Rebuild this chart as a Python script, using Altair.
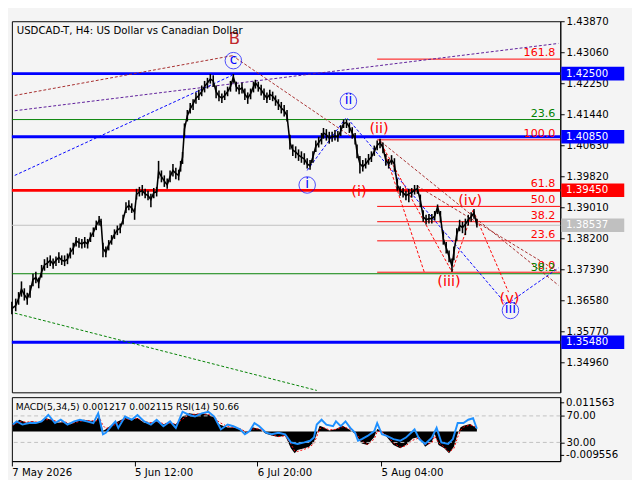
import altair as alt
import pandas as pd

# ---------------- price data (H4 bars, index from chart start) ----------------
bars = [0, 4, 7, 10, 13, 16, 19, 22, 25, 28,
        31, 34, 37, 40, 43, 46, 49, 52, 55, 58,
        61, 64, 67, 70, 73, 76, 79, 82, 85, 88,
        91, 93, 95, 98, 101, 104, 107, 110, 113, 116,
        119, 122, 125, 128, 130, 133, 136, 139, 142, 145,
        148, 151, 153, 156, 159, 162, 165, 168, 171, 174,
        176, 178, 180, 183, 186, 189, 192, 195, 198, 201,
        204, 207, 210, 213, 216, 219, 222, 225, 228, 231,
        234, 237, 240, 243, 246, 249, 252, 254, 257, 260,
        263, 266, 269, 272, 275, 278, 281, 284, 287, 290,
        293, 296, 299, 302, 305, 308, 311, 314, 317, 320,
        323, 325, 328, 331, 334, 337, 340, 343, 346, 349,
        352, 355, 358, 360, 363, 366, 369, 372, 375, 378,
        381, 384, 387, 390, 393, 396, 399, 402, 405, 408,
        411, 414, 417, 420, 423, 426, 429, 432, 435, 438,
        441, 444, 447, 450, 453, 456, 459, 461, 464, 467,
        470, 473, 476, 479, 482, 485]

close = [1.3636, 1.3644, 1.3662, 1.3687, 1.3672, 1.3662, 1.3679, 1.3712, 1.3717, 1.3704,
         1.3732, 1.3750, 1.3755, 1.3762, 1.3752, 1.3762, 1.3770, 1.3762, 1.3760, 1.3765,
         1.3783, 1.3793, 1.3813, 1.3808, 1.3805, 1.3810, 1.3805, 1.3823, 1.3835, 1.3853,
         1.3866, 1.3863, 1.3793, 1.3783, 1.3803, 1.3815, 1.3830, 1.3841, 1.3846, 1.3868,
         1.3898, 1.3906, 1.3898, 1.3888, 1.3934, 1.3941, 1.3944, 1.3936, 1.3931, 1.3921,
         1.3939, 1.3941, 1.3994, 1.3981, 1.3969, 1.3959, 1.3981, 1.3997, 1.3989, 1.3984,
         1.4009, 1.4032, 1.4105, 1.4140, 1.4158, 1.4171, 1.4186, 1.4193, 1.4203, 1.4216,
         1.4226, 1.4236, 1.4231, 1.4203, 1.4191, 1.4186, 1.4193, 1.4203, 1.4216, 1.4241,
         1.4216, 1.4208, 1.4213, 1.4196, 1.4186, 1.4198, 1.4216, 1.4226, 1.4216, 1.4208,
         1.4196, 1.4186, 1.4196, 1.4191, 1.4181, 1.4171, 1.4160, 1.4153, 1.4140, 1.4070,
         1.4050, 1.4045, 1.4037, 1.4032, 1.4027, 1.4014, 1.4009, 1.4032, 1.4060, 1.4070,
         1.4080, 1.4095, 1.4090, 1.4082, 1.4085, 1.4087, 1.4085, 1.4100, 1.4120, 1.4122,
         1.4110, 1.4095, 1.4080, 1.4045, 1.4014, 1.4007, 1.4014, 1.4024, 1.4032, 1.4047,
         1.4062, 1.4070, 1.4057, 1.4024, 1.4014, 1.4024, 1.4014, 1.3959, 1.3944, 1.3939,
         1.3931, 1.3936, 1.3939, 1.3946, 1.3949, 1.3919, 1.3876, 1.3868, 1.3871, 1.3871,
         1.3878, 1.3901, 1.3876, 1.3818, 1.3795, 1.3772, 1.3747, 1.3783, 1.3830, 1.3853,
         1.3848, 1.3856, 1.3868, 1.3876, 1.3886, 1.38537]

high = [1.3654, 1.3662, 1.3679, 1.3707, 1.3689, 1.3677, 1.3697, 1.3727, 1.3732, 1.3717,
        1.3750, 1.3765, 1.3770, 1.3775, 1.3767, 1.3772, 1.3783, 1.3775, 1.3775, 1.3780,
        1.3795, 1.3808, 1.3823, 1.3820, 1.3818, 1.3823, 1.3818, 1.3835, 1.3848, 1.3866,
        1.3878, 1.3871, 1.3808, 1.3798, 1.3815, 1.3828, 1.3843, 1.3853, 1.3858, 1.3881,
        1.3914, 1.3919, 1.3911, 1.3898, 1.3949, 1.3954, 1.3959, 1.3949, 1.3944, 1.3936,
        1.3951, 1.3954, 1.4022, 1.3997, 1.3984, 1.3976, 1.3997, 1.4014, 1.4004, 1.3999,
        1.4022, 1.4045, 1.4120, 1.4155, 1.4173, 1.4183, 1.4201, 1.4208, 1.4219, 1.4231,
        1.4239, 1.4249, 1.4246, 1.4219, 1.4206, 1.4198, 1.4206, 1.4216, 1.4231, 1.4249,
        1.4229, 1.4221, 1.4226, 1.4211, 1.4201, 1.4211, 1.4229, 1.4234, 1.4229, 1.4221,
        1.4211, 1.4201, 1.4208, 1.4203, 1.4193, 1.4183, 1.4176, 1.4168, 1.4155, 1.4090,
        1.4065, 1.4060, 1.4052, 1.4047, 1.4042, 1.4029, 1.4024, 1.4047, 1.4075, 1.4085,
        1.4095, 1.4108, 1.4105, 1.4098, 1.4098, 1.4103, 1.4100, 1.4115, 1.4130, 1.4130,
        1.4122, 1.4110, 1.4095, 1.4065, 1.4035, 1.4024, 1.4029, 1.4040, 1.4047, 1.4062,
        1.4075, 1.4080, 1.4070, 1.4040, 1.4027, 1.4037, 1.4029, 1.3976, 1.3956, 1.3951,
        1.3944, 1.3949, 1.3951, 1.3959, 1.3959, 1.3934, 1.3893, 1.3881, 1.3883, 1.3883,
        1.3891, 1.3908, 1.3891, 1.3838, 1.3810, 1.3788, 1.3767, 1.3798, 1.3846, 1.3868,
        1.3863, 1.3871, 1.3881, 1.3888, 1.3896, 1.3871]

low = [1.3621, 1.3629, 1.3646, 1.3667, 1.3657, 1.3646, 1.3664, 1.3694, 1.3702, 1.3689,
       1.3717, 1.3735, 1.3742, 1.3747, 1.3740, 1.3747, 1.3755, 1.3750, 1.3747, 1.3752,
       1.3767, 1.3777, 1.3798, 1.3795, 1.3793, 1.3795, 1.3793, 1.3810, 1.3823, 1.3841,
       1.3853, 1.3851, 1.3770, 1.3770, 1.3788, 1.3803, 1.3818, 1.3828, 1.3833, 1.3856,
       1.3886, 1.3893, 1.3886, 1.3868, 1.3921, 1.3929, 1.3931, 1.3924, 1.3919, 1.3901,
       1.3924, 1.3929, 1.3976, 1.3966, 1.3954, 1.3949, 1.3966, 1.3981, 1.3974, 1.3971,
       1.3994, 1.4014, 1.4085, 1.4125, 1.4146, 1.4155, 1.4171, 1.4181, 1.4191, 1.4201,
       1.4211, 1.4224, 1.4216, 1.4186, 1.4178, 1.4173, 1.4181, 1.4191, 1.4203, 1.4226,
       1.4203, 1.4196, 1.4198, 1.4181, 1.4171, 1.4183, 1.4201, 1.4211, 1.4203, 1.4193,
       1.4181, 1.4173, 1.4181, 1.4178, 1.4166, 1.4155, 1.4146, 1.4138, 1.4125, 1.4052,
       1.4035, 1.4029, 1.4022, 1.4017, 1.4012, 1.4002, 1.3999, 1.4017, 1.4045, 1.4057,
       1.4065, 1.4080, 1.4075, 1.4067, 1.4072, 1.4075, 1.4072, 1.4087, 1.4108, 1.4108,
       1.4095, 1.4080, 1.4065, 1.4029, 1.3989, 1.3994, 1.4002, 1.4012, 1.4019, 1.4035,
       1.4050, 1.4055, 1.4042, 1.4009, 1.4002, 1.4012, 1.3994, 1.3944, 1.3931, 1.3926,
       1.3919, 1.3914, 1.3926, 1.3934, 1.3936, 1.3901, 1.3863, 1.3856, 1.3858, 1.3858,
       1.3866, 1.3883, 1.3861, 1.3803, 1.3780, 1.3757, 1.3732, 1.3762, 1.3813, 1.3838,
       1.3833, 1.3828, 1.3853, 1.3863, 1.3871, 1.3848]

price_ticks = [1.43870, 1.43060, 1.42250, 1.41440, 1.40630, 1.39820,
               1.39010, 1.38200, 1.37390, 1.36580, 1.35770, 1.34960]

# horizontal levels
level_values = [1.42500, 1.40850, 1.39450, 1.35480]
level_colors = ["#0000ff", "#0000ff", "#ff0000", "#0000ff"]
thin_values = [1.41300, 1.37270, 1.38537]
thin_colors = ["#008000", "#008000", "#c0c0c0"]

# Fibonacci (red) and second Fibonacci (green)
fib_values = [1.4288, 1.4077, 1.3945, 1.3903, 1.3863, 1.3813, 1.3731]
fib_labels = ["161.8", "100.0", "61.8", "50.0", "38.2", "23.6", "0.0"]
fib_start = [381]
fib_end = [572]
gfib_values = [1.4130, 1.3727]
gfib_labels = ["23.6", "38.2"]

# price tags on the right
box_values = [1.42500, 1.40850, 1.39450, 1.38537, 1.35480]
box_colors = ["#0000ff", "#0000ff", "#ff0000", "#c0c0c0", "#0000ff"]

# dotted trend lines
seg_x1 = [3, 230, 3, 3, 308, 350, 520, 3, 383, 388, 459, 481, 385, 423]
seg_y1 = [1.4193, 1.4297, 1.4153, 1.3984, 1.3997, 1.4133, 1.3654, 1.3624,
          1.4077, 1.4052, 1.3732, 1.3893, 1.4072, 1.3956]
seg_x2 = [230, 353, 570, 230, 348, 515, 570, 318, 459, 430, 481, 518, 570, 570]
seg_y2 = [1.4297, 1.4087, 1.4329, 1.4246, 1.4133, 1.3649, 1.3742, 1.3422,
          1.3732, 1.3732, 1.3893, 1.3679, 1.3697, 1.3732]
seg_color = ["#a52a2a", "#a52a2a", "#5b1a99", "#0000ff", "#0000ff", "#0000ff",
             "#0000ff", "#008000", "#ff0000", "#ff0000", "#ff0000", "#ff0000",
             "#a52a2a", "#a52a2a"]

# wave labels
b_text = ["B"]
b_bar = [232]
b_price = [1.4339]
circ_text = ["c", "ii", "i", "iii"]
circ_bar = [231, 351, 308, 520]
circ_price = [1.4284, 1.4178, 1.3959, 1.3631]
red_text = ["(ii)", "(i)", "(iv)", "(iii)", "(v)"]
red_bar = [383, 362, 478, 456, 519]
red_price = [1.4108, 1.3944, 1.3919, 1.3707, 1.3662]

# ---------------- indicator data ----------------
macd_bars = [1, 8, 15, 21, 28, 35, 41, 48, 55, 61,
             68, 75, 81, 88, 91, 95, 98, 105, 111, 118,
             125, 131, 138, 145, 151, 158, 165, 171, 178, 185,
             191, 198, 205, 211, 216, 225, 231, 238, 245, 251,
             258, 265, 271, 278, 285, 291, 295, 298, 305, 310,
             315, 318, 321, 325, 331, 338, 345, 351, 358, 365,
             371, 378, 381, 385, 391, 398, 405, 411, 418, 425,
             431, 438, 441, 445, 451, 456, 461, 465, 468, 471,
             478, 483, 485]
macd_hist = [0.0029, 0.0048, 0.0035, 0.0042, 0.0035, 0.0055, 0.0048, 0.0035, 0.0039, 0.0029,
             0.0042, 0.0048, 0.0044, 0.0042, 0.0068, 0.0003, 0.0009, 0.0029, 0.0042, 0.0055,
             0.0048, 0.0055, 0.0035, 0.0035, 0.0042, 0.0029, 0.0035, 0.0029, 0.0061, 0.0074,
             0.0070, 0.0074, 0.0068, 0.0057, 0.0029, 0.0016, 0.0016, 0.0010, -0.0009, 0.0017,
             0.0010, -0.0009, -0.0016, -0.0022, -0.0016, -0.0067, -0.0087, -0.0074, -0.0067, -0.0061,
             -0.0042, -0.0009, 0.0023, 0.0017, 0.0004, 0.0010, 0.0023, 0.0010, -0.0009, -0.0048,
             -0.0054, -0.0022, 0.0010, 0.0004, -0.0022, -0.0054, -0.0067, -0.0054, -0.0028, -0.0022,
             -0.0061, -0.0042, -0.0009, -0.0054, -0.0067, -0.0087, -0.0061, -0.0009, 0.0017, 0.0023,
             0.0030, 0.0017, 0.0012]
macd_signal = [0.0025, 0.0040, 0.0038, 0.0040, 0.0037, 0.0048, 0.0048, 0.0040, 0.0039, 0.0032,
               0.0038, 0.0045, 0.0044, 0.0043, 0.0058, 0.0025, 0.0012, 0.0022, 0.0036, 0.0050,
               0.0049, 0.0053, 0.0040, 0.0036, 0.0040, 0.0032, 0.0034, 0.0030, 0.0050, 0.0068,
               0.0070, 0.0072, 0.0069, 0.0060, 0.0038, 0.0020, 0.0017, 0.0012, -0.0003, 0.0010,
               0.0011, -0.0003, -0.0013, -0.0020, -0.0017, -0.0050, -0.0078, -0.0080, -0.0071, -0.0064,
               -0.0048, -0.0020, 0.0012, 0.0016, 0.0007, 0.0009, 0.0019, 0.0013, -0.0003, -0.0038,
               -0.0052, -0.0030, 0.0000, 0.0002, -0.0016, -0.0045, -0.0063, -0.0057, -0.0035, -0.0025,
               -0.0052, -0.0046, -0.0018, -0.0045, -0.0062, -0.0082, -0.0068, -0.0022, 0.0005, 0.0018,
               0.0027, 0.0020, 0.0021]

rsi_bars = [1, 5, 11, 18, 25, 31, 38, 45, 51, 58,
            65, 71, 78, 85, 90, 95, 98, 105, 108, 111,
            118, 125, 131, 138, 145, 151, 158, 165, 171, 178,
            185, 191, 198, 205, 211, 218, 225, 231, 238, 243,
            248, 253, 258, 265, 271, 278, 285, 291, 298, 305,
            311, 315, 318, 323, 328, 335, 338, 343, 348, 353,
            358, 361, 365, 371, 378, 381, 386, 391, 398, 405,
            411, 420, 425, 431, 438, 443, 448, 455, 460, 465,
            471, 476, 481, 485]
rsi_vals = [56.9, 61.7, 56.9, 59.2, 59.2, 61.7, 71.4, 59.2, 64.2, 56.9,
            61.7, 64.2, 61.7, 59.2, 73.8, 42.3, 44.6, 56.9, 61.7, 51.9,
            69.0, 64.2, 71.4, 61.7, 56.9, 64.2, 54.4, 61.7, 51.9, 76.3,
            71.4, 69.0, 73.8, 76.3, 69.0, 49.6, 56.9, 54.4, 49.6, 42.3,
            47.1, 59.2, 54.4, 44.6, 42.3, 44.6, 42.3, 30.0, 27.7, 30.0,
            32.5, 37.3, 56.9, 64.2, 56.9, 54.4, 61.7, 54.4, 61.7, 51.9,
            44.6, 32.5, 35.0, 39.8, 47.1, 59.2, 42.3, 39.8, 35.0, 32.5,
            37.3, 49.6, 35.0, 27.7, 37.3, 51.9, 30.0, 27.7, 35.0, 59.2,
            59.2, 64.2, 66.5, 50.66]
rsi_levels = [30, 70]
macd_labels = [0.011563, -0.009556]

date_ticks = [0, 128, 256, 385]
date_labels = ["7 May 2026", "5 Jun 12:00", "6 Jul 20:00", "5 Aug 04:00"]

title_text = "USDCAD-T, H4:  US Dollar vs Canadian Dollar"
ind_text = "MACD(5,34,5) 0.001217 0.002115 RSI(14) 50.66"

# ---------------- layout / styles ----------------
W = 566
H_MAIN = 383
H_LOW = 66
FONT = "DejaVu Sans"

xs = alt.Scale(domain=[0, 572], nice=False, zero=False)
ys = alt.Scale(domain=[1.3417, 1.4387], nice=False, zero=False)
y_axis = alt.Axis(orient="right", values=price_ticks, format=".5f", title=None,
                  labelFontSize=10.5, labelFont=FONT, labelColor="black",
                  tickColor="black", domainColor="black", tickSize=4,
                  labelPadding=2, grid=False, labelOverlap=False)


def X(f):
    return alt.X(f, type="quantitative", scale=xs, axis=None)


def Y(f):
    return alt.Y(f, type="quantitative", scale=ys, axis=y_axis)


price = pd.DataFrame({"bar": bars, "close": close, "high": high, "low": low})
lv = pd.DataFrame({"v": level_values, "c": level_colors})
tv = pd.DataFrame({"v": thin_values, "c": thin_colors})
fib = pd.DataFrame({"v": fib_values, "t": fib_labels,
                    "x1": fib_start * len(fib_values), "x2": fib_end * len(fib_values)})
gfib = pd.DataFrame({"v": gfib_values, "t": gfib_labels})
boxes = pd.DataFrame({"v": box_values, "c": box_colors,
                      "t": [f"{v:.5f}" for v in box_values]})
segs = pd.DataFrame({"x1": seg_x1, "y1": seg_y1, "x2": seg_x2, "y2": seg_y2, "c": seg_color})
bdf = pd.DataFrame({"t": b_text, "bar": b_bar, "p": b_price})
cdf = pd.DataFrame({"t": circ_text, "bar": circ_bar, "p": circ_price})
rdf = pd.DataFrame({"t": red_text, "bar": red_bar, "p": red_price})

thick = alt.Chart(lv).mark_rule(strokeWidth=3).encode(
    y=Y("v"), color=alt.Color("c:N", scale=None))
thin = alt.Chart(tv).mark_rule(strokeWidth=1).encode(
    y=Y("v"), color=alt.Color("c:N", scale=None))
fib_lines = alt.Chart(fib).mark_rule(color="#ff0000", strokeWidth=1).encode(
    x=X("x1"), x2="x2:Q", y=Y("v"))
fib_text = alt.Chart(fib).mark_text(color="#ff0000", align="right", baseline="bottom",
                                    dy=-1, fontSize=11.5, font=FONT).encode(
    x=alt.value(W - 5), y=Y("v"), text="t:N")
gfib_text = alt.Chart(gfib).mark_text(color="#008000", align="right", baseline="bottom",
                                      dy=-1, fontSize=11.5, font=FONT).encode(
    x=alt.value(W - 5), y=Y("v"), text="t:N")
trend = alt.Chart(segs).mark_rule(strokeWidth=1, strokeDash=[3, 2]).encode(
    x=X("x1"), x2="x2:Q", y=Y("y1"), y2="y2:Q", color=alt.Color("c:N", scale=None))
wicks = alt.Chart(price).mark_rule(color="black", strokeWidth=1.6).encode(
    x=X("bar"), y=Y("low"), y2="high:Q")
closes = alt.Chart(price).mark_line(color="black", strokeWidth=1.6).encode(
    x=X("bar"), y=Y("close"))
b_lab = alt.Chart(bdf).mark_text(color="#c0282d", fontSize=17, font=FONT).encode(
    x=X("bar"), y=Y("p"), text="t:N")
c_ring = alt.Chart(cdf).mark_point(shape="circle", size=290, color="#0000ff",
                                   filled=False, strokeWidth=1).encode(
    x=X("bar"), y=Y("p"))
c_lab = alt.Chart(cdf).mark_text(color="#0000ff", fontSize=14, font=FONT, dy=-1).encode(
    x=X("bar"), y=Y("p"), text="t:N")
r_lab = alt.Chart(rdf).mark_text(color="#ff0000", fontSize=15, font=FONT).encode(
    x=X("bar"), y=Y("p"), text="t:N")
box_bg = alt.Chart(boxes).mark_rule(strokeWidth=14).encode(
    x=alt.value(W + 1), x2=alt.value(W + 66), y=Y("v"), color=alt.Color("c:N", scale=None))
box_tx = alt.Chart(boxes).mark_text(color="white", align="left", fontSize=10.5, font=FONT).encode(
    x=alt.value(W + 6), y=Y("v"), text="t:N")
title = alt.Chart(pd.DataFrame({"t": [title_text]})).mark_text(
    align="left", baseline="middle", fontSize=10.5, font=FONT, color="black").encode(
    x=alt.value(5), y=alt.value(10), text="t:N")

main = alt.layer(thin, thick, fib_lines, trend, wicks, closes, fib_text, gfib_text,
                 b_lab, c_ring, c_lab, r_lab, box_bg, box_tx, title).properties(
    width=W, height=H_MAIN)

# ---------------- lower indicator panel ----------------
date_expr = " : ".join(f"datum.value == {t} ? '{l}'" for t, l in zip(date_ticks, date_labels)) + " : ''"
x_low_axis = alt.Axis(values=date_ticks, labelExpr=date_expr, title=None, labelAlign="left",
                      labelFontSize=10.5, labelFont=FONT, tickSize=5, labelPadding=2,
                      tickColor="black", domainColor="black", labelColor="black",
                      grid=False, labelOverlap=False, labelFlush=False)
ms = alt.Scale(domain=[-0.01186, 0.01381], nice=False, zero=False)
rs = alt.Scale(domain=[1.8, 98.2], nice=False, zero=False)
rsi_axis = alt.Axis(orient="right", values=rsi_levels, format=".2f", title=None,
                    labelFontSize=10.5, labelFont=FONT, labelColor="black",
                    tickColor="black", domainColor="black", tickSize=4,
                    labelPadding=2, grid=False, labelOverlap=False)


def XL(f):
    return alt.X(f, type="quantitative", scale=xs, axis=x_low_axis)


mdf = pd.DataFrame({"bar": macd_bars, "h": macd_hist, "s": macd_signal})
rdf2 = pd.DataFrame({"bar": rsi_bars, "r": rsi_vals})
mlab = pd.DataFrame({"v": macd_labels, "t": [f"{v:.6f}" for v in macd_labels]})
rlev = pd.DataFrame({"v": rsi_levels})

hist = alt.Chart(mdf).mark_area(color="black").encode(
    x=XL("bar"), y=alt.Y("h:Q", scale=ms, axis=None), y2=alt.datum(0))
sig = alt.Chart(mdf).mark_line(color="#ff0000", strokeWidth=1, strokeDash=[2, 2]).encode(
    x=XL("bar"), y=alt.Y("s:Q", scale=ms, axis=None))
mtick = alt.Chart(mlab).mark_rule(color="black").encode(
    x=alt.value(W), x2=alt.value(W + 4), y=alt.Y("v:Q", scale=ms, axis=None))
mtext = alt.Chart(mlab).mark_text(align="left", fontSize=10.5, font=FONT, color="black").encode(
    x=alt.value(W + 6), y=alt.Y("v:Q", scale=ms, axis=None), text="t:N")
macd_layer = alt.layer(hist, sig, mtick, mtext)

rl = alt.Chart(rlev).mark_rule(color="#c0c0c0", strokeDash=[4, 3], strokeWidth=1).encode(
    y=alt.Y("v:Q", scale=rs, axis=rsi_axis))
rline = alt.Chart(rdf2).mark_line(color="#1e90ff", strokeWidth=2).encode(
    x=XL("bar"), y=alt.Y("r:Q", scale=rs, axis=rsi_axis))
ind = alt.Chart(pd.DataFrame({"t": [ind_text]})).mark_text(
    align="left", baseline="middle", fontSize=9.5, font=FONT, color="black").encode(
    x=alt.value(4), y=alt.value(10), text="t:N")
rsi_layer = alt.layer(rl, rline, ind)

lower = alt.layer(macd_layer, rsi_layer).resolve_scale(y="independent").properties(
    width=W, height=H_LOW)

chart = alt.vconcat(main, lower, spacing=3).resolve_scale(
    x="independent", y="independent").properties(padding=0).configure(
    background="#f4f4f4", font=FONT).configure_view(stroke="black", strokeWidth=1)

chart.save("out.html", embed_options={"renderer": "svg", "actions": False})
